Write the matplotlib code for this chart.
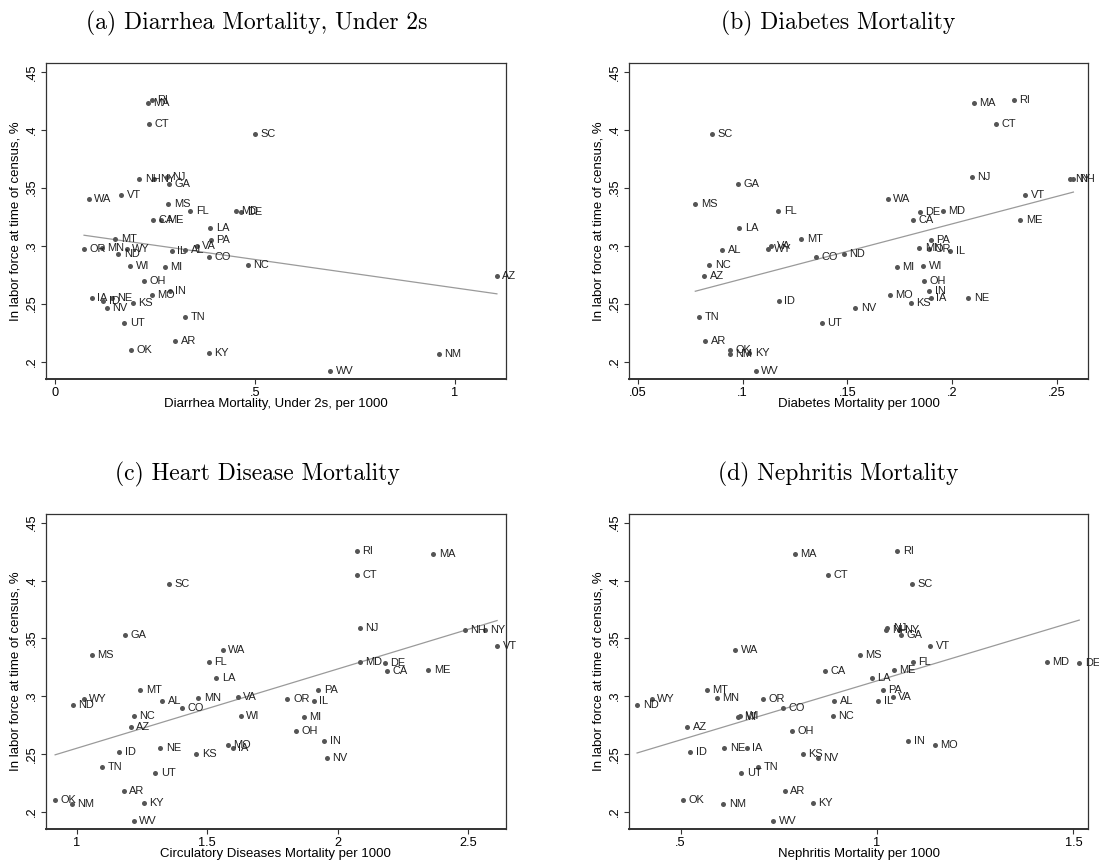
# Labor force share vs. cause-specific mortality, by state
import numpy as np
import matplotlib
matplotlib.use('Agg')
import matplotlib.pyplot as plt

#-------------------------------------------------------------------------------
states = ['RI', 'MA', 'CT', 'SC', 'NH', 'NY', 'NJ', 'GA', 'VT', 'WA', 'MS', 'FL',
          'MD', 'DE', 'CA', 'ME', 'LA', 'PA', 'MT', 'VA', 'OR', 'MN', 'WY', 'IL',
          'AL', 'ND', 'CO', 'WI', 'MI', 'NC', 'OH', 'IN', 'MO', 'IA', 'NE', 'ID',
          'KS', 'NV', 'UT', 'TN', 'AR', 'OK', 'KY', 'NM', 'WV', 'AZ']

labor_force = [.4256, .423, .405, .3966, .3575, .3575, .3592, .3529, .3434, .340, .3359, .3299,
               .3299, .3287, .3218, .3224, .3155, .3052, .3055, .2994, .2974, .2983, .2974, .2957,
               .2963, .2925, .290, .2828, .282, .283, .2698, .2612, .2578, .2549, .2552, .252,
               .2503, .2463, .2336, .2388, .2181, .2101, .2078, .2069, .192, .2736]

diarrhea = [.2425, .2324, .235, .50, .2115, .2483, .280, .286, .1656, .0844, .284, .3386,
            .4523, .466, .2441, .2659, .3888, .3896, .1505, .3545, .0727, .117, .1798, .2926,
            .326, .1589, .3846, .1881, .2742, .4824, .2232, .2868, .2425, .092, .142, .1212,
            .1948, .1296, .1739, .3253, .301, .1906, .3846, .96, .689, 1.106]

diabetes = [.2294, .2101, .221, .0854, .2577, .2559, .2093, .0979, .2347, .1691, .0775, .117,
            .1955, .1844, .1813, .2323, .0984, .1897, .1281, .1138, .189, .1843, .1122, .1991,
            .0903, .1483, .1352, .186, .1734, .0841, .1865, .1889, .1703, .1896, .2077, .1173,
            .1801, .1537, .1379, .0794, .0822, .0938, .1032, .094, .1063, .0817]

heart = [2.073, 2.366, 2.073, 1.352, 2.486, 2.5625, 2.084, 1.186, 2.61, 1.559, 1.057, 1.505,
         2.084, 2.179, 2.189, 2.347, 1.534, 1.925, 1.244, 1.616, 1.807, 1.466, 1.027, 1.908,
         1.328, 0.985, 1.402, 1.628, 1.869, 1.218, 1.838, 1.948, 1.578, 1.597, 1.319, 1.162,
         1.457, 1.958, 1.30, 1.098, 1.18, 0.917, 1.256, 0.981, 1.218, 1.207]

nephritis = [1.052, .791, .876, 1.089, 1.024, 1.056, 1.026, 1.062, 1.135, .639, .956, 1.091,
             1.433, 1.515, .868, 1.043, .986, 1.014, .566, 1.04, .71, .592, .426, 1.003,
             .891, .389, .761, .652, .647, .887, .784, 1.079, 1.147, .668, .611, .525,
             .811, .849, .654, .698, .765, .506, .836, .609, .736, .517]

titles = ['(a) Diarrhea Mortality, Under 2s', '(b) Diabetes Mortality',
          '(c) Heart Disease Mortality', '(d) Nephritis Mortality']
xlabels = ['Diarrhea Mortality, Under 2s, per 1000', 'Diabetes Mortality per 1000',
           'Circulatory Diseases Mortality per 1000', 'Nephritis Mortality per 1000']
xticks = [[0, .5, 1], [.05, .1, .15, .2, .25], [1, 1.5, 2, 2.5], [.5, 1, 1.5]]
xticklabels = [['0', '.5', '1'], ['.05', '.1', '.15', '.2', '.25'],
               ['1', '1.5', '2', '2.5'], ['.5', '1', '1.5']]
xlims = [(-0.0225, 1.128), (0.0459, 0.2648), (0.882, 2.643), (0.3684, 1.538)]
yticks = [.2, .25, .3, .35, .4, .45]
yticklabels = ['.2', '.25', '.3', '.35', '.4', '.45']
ylabel = 'In labor force at time of census, %'

#-------------------------------------------------------------------------------
W, H = 1099, 867
SANS = 'Liberation Sans'
DOT = '#555555'

def px_rect(left, top, right, bottom):
    return [left / W, 1 - bottom / H, (right - left) / W, (bottom - top) / H]

def draw_panel(ax, xvals, i):
    x = np.array(xvals)
    y = np.array(labor_force)

    # linear fit across the observed range
    b, a = np.polyfit(x, y, 1)
    xs = np.array([x.min(), x.max()])
    ax.plot(xs, a + b * xs, color = '#9a9a9a', lw = 0.9, zorder = 2)

    ax.scatter(x, y, s = 13, color = DOT, zorder = 3, linewidths = 0)
    for st, xv, yv in zip(states, x, y):
        ax.annotate(st, (xv, yv), xytext = (4, 0), textcoords = 'offset points',
                    ha = 'left', va = 'center', fontsize = 7.9, family = SANS,
                    color = '#222222', zorder = 4)

    ax.set_xlim(*xlims[i])
    ax.set_ylim(0.185, 0.4575)
    ax.set_xticks(xticks[i])
    ax.set_xticklabels(xticklabels[i], family = SANS, fontsize = 9.2)
    ax.set_yticks(yticks)
    ax.set_yticklabels(yticklabels, family = SANS, fontsize = 9.2,
                       rotation = 90, va = 'center')
    ax.tick_params(direction = 'out', length = 3.8, width = 0.8, pad = 2, color = '#333333')

    ax.set_xlabel(xlabels[i], family = SANS, fontsize = 9.5, va = 'center')
    ax.xaxis.set_label_coords(0.5, -0.078)
    ax.set_ylabel(ylabel, family = SANS, fontsize = 9.5, va = 'center')
    ax.yaxis.set_label_coords(-0.066, 0.5)

    for sp in ax.spines.values():
        sp.set_color('#333333')
        sp.set_linewidth(0.9)
    ax.spines['bottom'].set_linewidth(1.4)

#-------------------------------------------------------------------------------
fig = plt.figure(figsize = (W / 100, H / 100), dpi = 100)

rects = [px_rect(46, 63, 505.7, 379), px_rect(629, 63, 1088.3, 379),
         px_rect(46, 514, 505.7, 829.3), px_rect(629, 514, 1088.3, 829.3)]
title_pos = [(257, 23), (838, 23), (257, 474), (838, 474)]

for i, xvals in enumerate([diarrhea, diabetes, heart, nephritis]):
    ax = fig.add_axes(rects[i])
    draw_panel(ax, xvals, i)
    tx, ty = title_pos[i]
    fig.text(tx / W, 1 - ty / H, titles[i], family = 'cmr10', fontsize = 17,
             ha = 'center', va = 'center')

fig.savefig('out.png', dpi = 100, facecolor = 'white')
